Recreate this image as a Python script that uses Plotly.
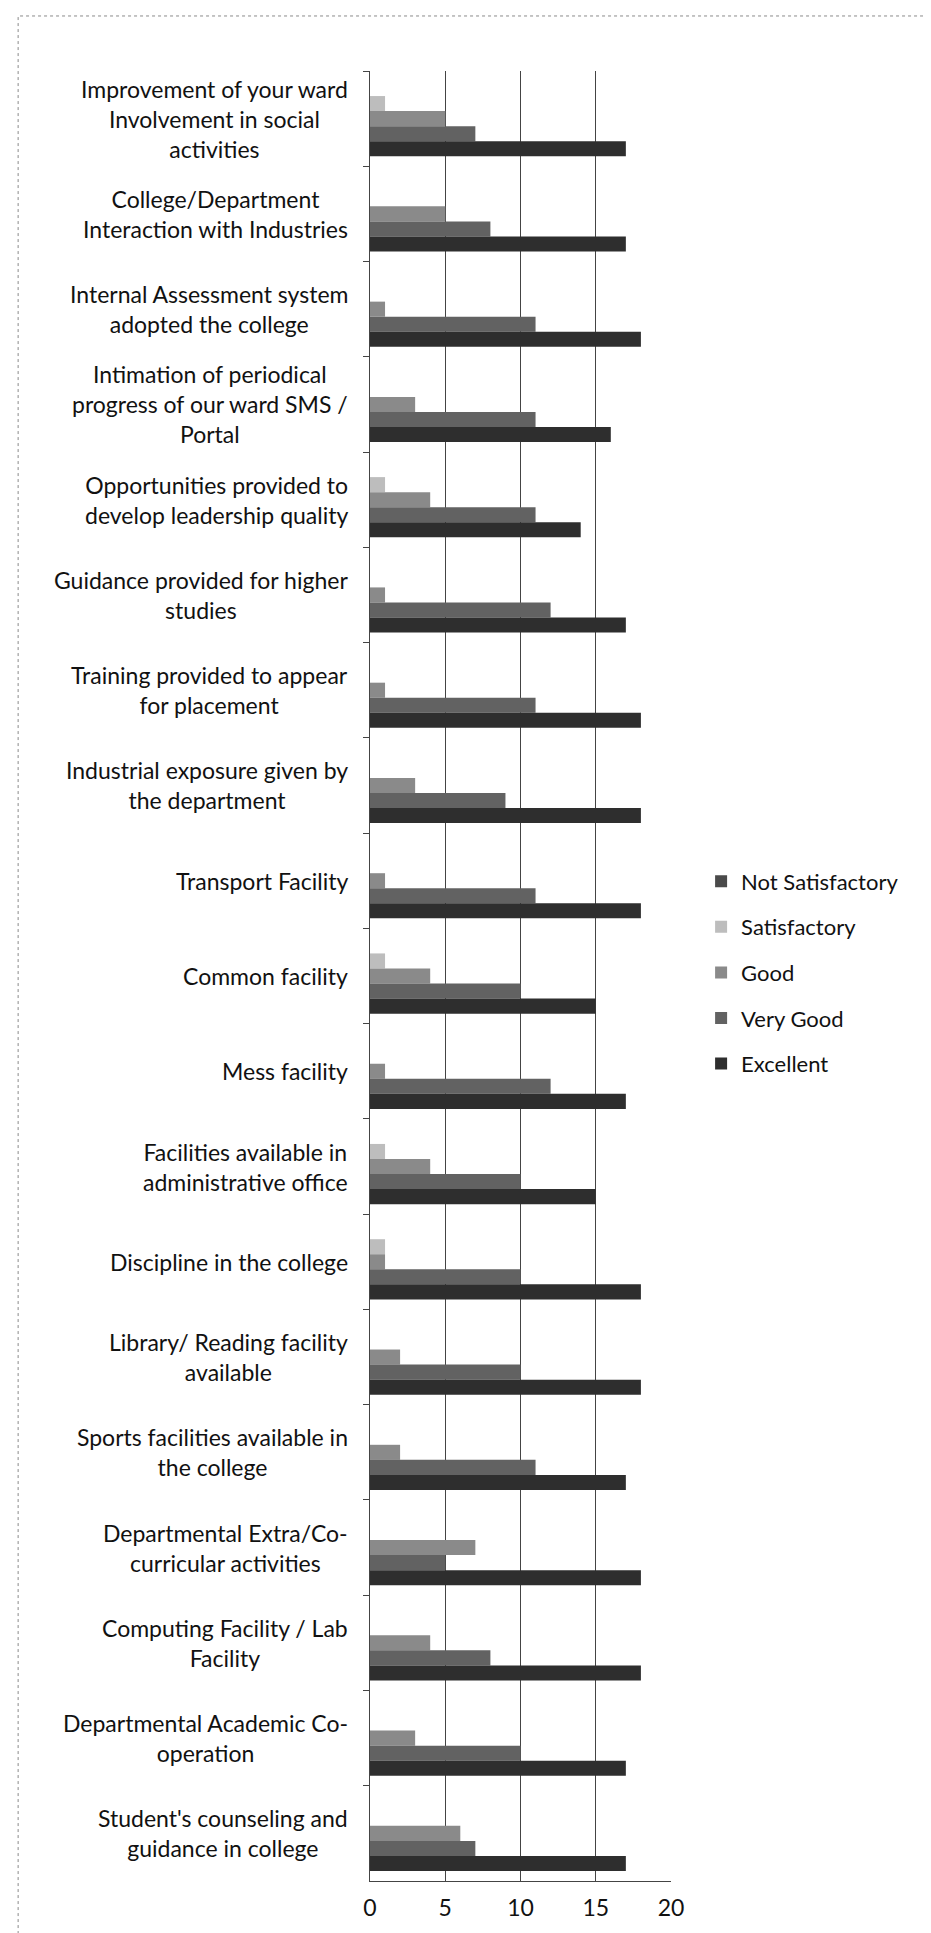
import plotly.graph_objects as go

categories = [
    "Improvement of your ward\nInvolvement in social\nactivities",
    "College/Department\nInteraction with Industries",
    "Internal Assessment system\nadopted the college",
    "Intimation of periodical\nprogress of our ward SMS /\nPortal",
    "Opportunities provided to\ndevelop leadership quality",
    "Guidance provided for higher\nstudies",
    "Training provided to appear\nfor placement",
    "Industrial exposure given by\nthe department",
    "Transport Facility",
    "Common facility",
    "Mess facility",
    "Facilities available in\nadministrative office",
    "Discipline in the college",
    "Library/ Reading facility\navailable",
    "Sports facilities available in\nthe college",
    "Departmental Extra/Co-\ncurricular activities",
    "Computing Facility / Lab\nFacility",
    "Departmental Academic Co-\noperation",
    "Student's counseling and\nguidance in college",
]

series_names = ["Not Satisfactory", "Satisfactory", "Good", "Very Good", "Excellent"]
not_satisfactory = [0, 0, 0, 0, 0, 0, 0, 0, 0, 0, 0, 0, 0, 0, 0, 0, 0, 0, 0]
satisfactory = [1, 0, 0, 0, 1, 0, 0, 0, 0, 1, 0, 1, 1, 0, 0, 0, 0, 0, 0]
good = [5, 5, 1, 3, 4, 1, 1, 3, 1, 4, 1, 4, 1, 2, 2, 7, 4, 3, 6]
very_good = [7, 8, 11, 11, 11, 12, 11, 9, 11, 10, 12, 10, 10, 10, 11, 5, 8, 10, 7]
excellent = [17, 17, 18, 16, 14, 17, 18, 18, 18, 15, 17, 15, 18, 18, 17, 18, 18, 17, 17]
x_ticks = [0, 5, 10, 15, 20]

values = [not_satisfactory, satisfactory, good, very_good, excellent]
colors = ["#4a4a4a", "#bdbdbd", "#8a8a8a", "#626262", "#2e2e2e"]

FONT = "Lato, 'Open Sans', sans-serif"

fig = go.Figure()
for name, vals, col in zip(series_names, values, colors):
    fig.add_trace(go.Bar(
        y=categories, x=vals, name=name, orientation="h",
        marker=dict(color=col, line=dict(width=0)),
        legendgroup=name,
    ))

for c in categories:
    fig.add_annotation(
        x=0, y=c, xref="paper", yref="y", text=c.replace("\n", "<br>"),
        xanchor="right", yanchor="middle", align="center", xshift=-20,
        showarrow=False, font=dict(family=FONT, size=23, color="#111"),
    )

fig.add_shape(type="rect", xref="paper", yref="paper",
              x0=-1.169, x1=1.880, y0=-0.04, y1=1.0304,
              line=dict(color="#8a8a8a", width=1, dash="dot"), layer="below")

fig.update_layout(
    width=931, height=1933,
    margin=dict(l=362, r=268, t=63, b=60),
    paper_bgcolor="white", plot_bgcolor="white",
    barmode="group", bargap=0.21, bargroupgap=0,
    font=dict(family=FONT, size=20, color="#111"),
    showlegend=True,
    legend=dict(x=1.10, xanchor="left", y=0.502, yanchor="middle",
                font=dict(family=FONT, size=22, color="#111"),
                tracegroupgap=14, traceorder="grouped", itemwidth=30),
    xaxis=dict(range=[0, 20], tickvals=x_ticks, showgrid=True,
               gridcolor="#444", gridwidth=1, zeroline=False,
               showline=True, linecolor="#444", linewidth=1,
               ticks="", tickfont=dict(size=23), ticklabelstandoff=6),
    yaxis=dict(autorange="reversed", type="category", showticklabels=False,
               tickson="boundaries", ticks="outside", ticklen=6,
               tickcolor="#444", showline=True, linecolor="#444",
               linewidth=1, showgrid=False),
)

fig.write_html("out.html")
